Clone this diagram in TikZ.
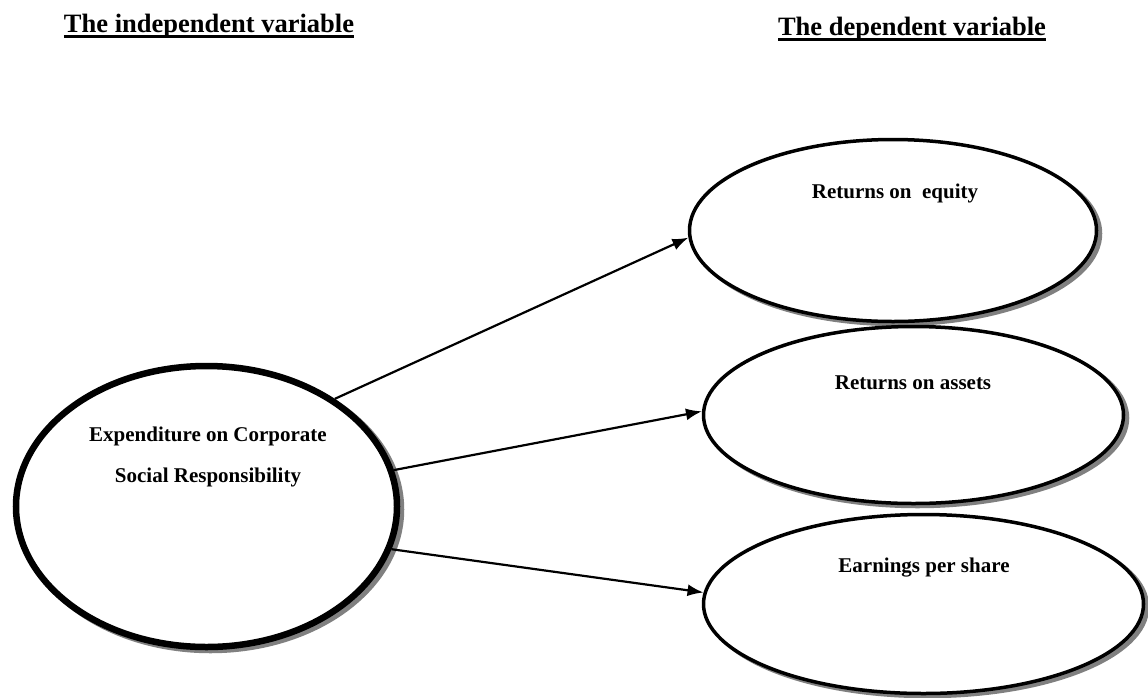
\documentclass[tikz,border=0pt]{standalone}
\usepackage{fontspec}
\setmainfont{Liberation Serif}
\usetikzlibrary{shapes}
\usetikzlibrary{arrows.meta}
\definecolor{ShadowGray}{gray}{0.5}
\newcommand{\headline}[1]{%
  \setbox0\hbox{#1}\rlap{\rule[-6pt]{\wd0}{3pt}}\box0%
}
\tikzset{
  var/.style={ellipse,draw,fill=white,inner sep=0pt,line width=#1,
    preaction={draw=ShadowGray,fill=ShadowGray,line width=#1,
      transform canvas={shift={(4,3)}}}},
  var/.default=3.5pt,
  lbl/.style={font=\fontsize{21}{41}\selectfont\bfseries,align=center},
  head/.style={font=\fontsize{26.5}{30}\selectfont\bfseries,anchor=base},
  link/.style={line width=2.2pt,-{Latex[length=16pt,width=12pt]}}
}

\begin{document}
\begin{tikzpicture}[x=1pt,y=-1pt]
  \useasboundingbox (0,0) rectangle (1148,697);

  % Headings {{{
  \node[head] (hindep) at (209,32) {\headline{The independent variable}};
  \node[head] (hdep) at (912,35) {\headline{The dependent variable}};
  % }}}

  % Variables {{{
  \node[var=6.5pt,minimum width=381pt,minimum height=281pt] (csr) at (206.5,506.5) {};
  \node[var,minimum width=407pt,minimum height=182pt] (roe) at (893,230.5) {};
  \node[var,minimum width=420pt,minimum height=177pt] (roa) at (913.5,415) {};
  \node[var,minimum width=440pt,minimum height=179pt] (eps) at (923.5,604) {};

  \node[lbl] (csrtext) at (208,456.5) {Expenditure on Corporate\\Social Responsibility};
  \node[lbl] (roetext) at (895,193.5) {Returns on\ \ equity};
  \node[lbl] (roatext) at (913,383) {Returns on assets};
  \node[lbl] (epstext) at (924,568) {Earnings per share};
  % }}}

  % Links {{{
  \draw[link] (csr.40) -- (roe.182);
  \draw[link] (csr.11) -- (roa.179.5);
  \draw[link] (csr.-13) -- (eps.177.7);
  % }}}
\end{tikzpicture}
\end{document}
